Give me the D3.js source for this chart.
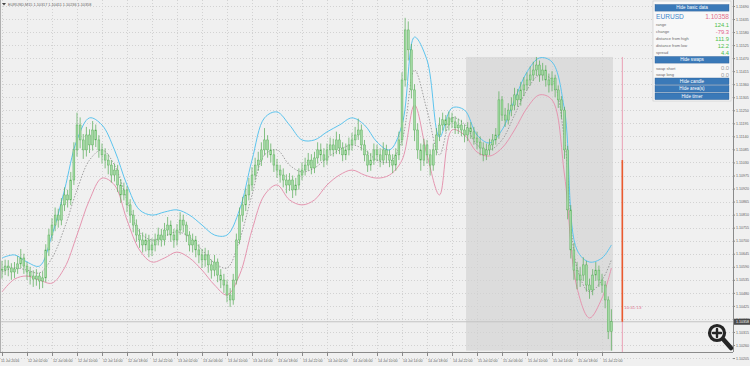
<!DOCTYPE html>
<html>
<head>
<meta charset="utf-8">
<script src="https://cdn.jsdelivr.net/npm/d3@7/dist/d3.min.js"></script>
<style>
  body { margin: 0; background: #f0f0f0; }
  svg { display: block; font-family: "Liberation Sans", Arial, sans-serif; }
</style>
</head>
<body>
<svg id="chart" width="750" height="366"></svg>
<script>
// EURUSD M30 bars, prices kept in pips above 1.1000
const BASE = 1.1;
const firstOpen = 58.0;

const closes = [
  57.6, 59.3, 58.5, 56.8, 58.1, 60.2, 62.7, 59.3, 56.8, 55.1, 53.8, 55.1, 53.0, 54.3,
  66.1, 72.4, 76.6, 80.8, 78.7, 85.1, 89.3, 87.2, 95.6, 108.3, 118.8, 112.5,
  108.3, 114.6, 110.4, 116.7, 112.5, 108.3, 106.2, 104.0,
  101.9, 97.7, 99.8, 93.5, 89.3, 91.4, 85.1, 80.8, 76.6, 72.4, 70.3, 68.2, 70.3, 66.1,
  68.2, 70.3, 72.4, 70.3, 74.5, 76.6, 72.4, 70.3, 74.5, 78.7, 76.6, 72.4, 68.2, 70.3, 66.1, 64.0,
  61.9, 64.0, 59.8, 57.6, 61.0, 55.5, 53.4, 51.3, 47.1, 45.0,
  53.4, 70.3, 80.8, 85.1, 89.3, 93.5, 97.7, 101.9, 104.0, 108.3, 112.5,
  108.3, 106.2, 101.9, 99.8, 97.7, 95.6, 93.5, 95.6, 91.4, 93.5, 97.7,
  99.8, 101.9, 104.0, 100.7, 104.9, 108.3, 106.2, 104.0, 108.3, 110.4, 108.3, 112.5, 109.1, 106.2, 108.3,
  110.4, 112.5, 114.6, 116.7, 110.4, 106.2, 101.9, 104.0, 108.3, 106.2, 104.0, 108.3, 106.2, 104.0, 101.9, 106.2,
  112.5, 137.8, 158.9, 150.5, 133.6, 116.7,
  108.3, 104.0, 110.4, 106.2, 101.9, 108.3, 114.6, 118.8,
  121.0, 118.8, 121.8, 120.1, 117.6, 118.8, 116.7, 114.6, 117.6, 115.9,
  113.3, 111.6, 109.1, 106.2, 108.3, 110.4, 112.5, 114.6, 129.4,
  123.0, 120.9, 125.1, 127.2, 131.5, 129.4, 133.6, 135.7, 137.8, 139.9, 142.0, 144.1,
  139.9, 142.0, 137.8, 135.7, 138.6, 133.6, 129.4, 125.1,
  108.3, 83.0, 66.1, 57.6,
  53.4, 55.5, 59.8, 51.3, 49.2, 55.5, 57.6, 53.4, 51.3,
  45.0, 31.7, 35.8
];
const highs = [
  61.5, 62.0, 61.8, 60.5, 61.0, 63.5, 66.5, 64.5, 61.0, 59.0, 57.5, 58.0, 56.5, 57.0,
  68.5, 75.0, 79.5, 84.0, 83.5, 88.0, 92.5, 91.5, 99.0, 111.5, 124.0, 122.0,
  115.0, 118.0, 117.0, 120.5, 119.0, 114.5, 111.0, 109.0,
  106.5, 104.0, 102.5, 102.0, 96.0, 94.5, 93.0, 87.5, 83.0, 79.0, 75.0, 73.5, 73.0, 72.5,
  71.0, 73.0, 75.5, 75.0, 77.5, 80.0, 78.5, 75.0, 77.0, 82.0, 81.0, 78.0, 74.0, 73.0, 72.0, 68.5,
  66.5, 67.0, 66.0, 62.0, 64.0, 62.5, 58.0, 56.0, 53.5, 50.0,
  56.0, 73.0, 84.0, 88.5, 92.0, 96.5, 101.0, 105.0, 107.5, 111.5, 117.5,
  114.5, 111.0, 108.5, 104.5, 102.0, 100.5, 98.0, 98.5, 97.5, 96.5, 100.5,
  103.0, 105.0, 107.0, 106.5, 107.5, 111.5, 111.0, 109.0, 111.0, 113.5, 113.0, 116.0, 115.0, 111.5, 111.0,
  113.5, 115.5, 118.0, 121.5, 119.0, 112.5, 108.0, 107.0, 111.0, 110.5, 109.0, 111.5, 110.5, 108.5, 106.5, 109.0,
  116.0, 141.0, 164.0, 162.5, 153.0, 136.0,
  119.5, 111.0, 113.0, 112.5, 108.5, 111.0, 117.5, 122.0,
  124.0, 123.0, 124.5, 124.0, 122.5, 121.5, 121.0, 119.0, 120.0, 120.0,
  118.0, 116.0, 114.0, 111.5, 111.0, 113.0, 115.0, 117.5, 133.0,
  131.0, 126.0, 128.0, 130.5, 134.5, 134.0, 137.0, 139.0, 141.0, 143.5, 145.5, 147.5,
  146.0, 145.0, 144.0, 140.5, 141.5, 140.0, 135.5, 131.0,
  126.5, 110.0, 85.0, 69.0,
  61.0, 59.0, 63.0, 61.5, 54.0, 58.0, 61.0, 59.5, 56.0,
  53.0, 46.5, 41.1
];
const lows = [
  54.0, 55.5, 55.0, 53.5, 54.2, 56.0, 58.5, 56.0, 53.5, 51.5, 50.5, 51.0, 49.5, 50.0,
  52.5, 63.5, 70.0, 74.0, 75.5, 76.5, 82.5, 84.0, 85.0, 93.5, 105.5, 109.0,
  104.5, 105.5, 107.0, 108.0, 109.5, 105.0, 102.5, 100.5,
  98.0, 94.5, 95.0, 90.5, 86.0, 87.0, 82.0, 77.5, 73.5, 69.5, 67.0, 65.0, 65.5, 63.0,
  63.5, 65.5, 68.0, 67.5, 68.0, 72.0, 69.5, 67.0, 68.0, 72.5, 73.5, 69.5, 65.5, 65.0, 63.0, 60.5,
  58.5, 59.0, 56.5, 54.0, 55.0, 52.5, 50.0, 48.0, 44.0, 42.0,
  43.0, 51.5, 68.5, 78.0, 82.5, 87.0, 91.0, 95.5, 99.5, 101.5, 106.0,
  105.0, 103.0, 99.0, 96.5, 94.5, 92.5, 90.0, 91.0, 88.0, 89.0, 91.5,
  95.5, 97.5, 99.5, 98.0, 98.5, 102.5, 103.5, 101.0, 102.0, 106.0, 105.5, 106.5, 106.5, 103.5, 104.0,
  106.0, 108.0, 110.5, 112.5, 108.0, 103.5, 99.0, 99.5, 102.0, 103.5, 101.0, 102.0, 103.0, 101.0, 98.5, 99.5,
  104.0, 110.0, 135.0, 146.0, 130.0, 112.0,
  104.5, 99.5, 101.5, 102.5, 97.5, 99.5, 106.0, 112.0,
  116.5, 116.0, 116.5, 117.5, 115.0, 115.0, 114.0, 111.5, 112.0, 113.0,
  110.5, 108.5, 106.0, 103.5, 104.0, 106.0, 108.0, 110.5, 113.0,
  120.5, 118.0, 119.0, 122.5, 125.0, 126.5, 127.0, 131.0, 133.5, 135.5, 137.5, 139.5,
  137.0, 137.5, 135.0, 132.5, 133.0, 130.5, 126.0, 121.5,
  104.5, 79.0, 62.5, 53.5,
  49.5, 50.5, 53.0, 48.5, 45.5, 47.0, 53.0, 50.5, 48.0,
  41.5, 28.5, 23.6
];

// band lines, sampled every 4 bars (plus the last bar)
const bandIdx = [0, 4, 8, 12, 16, 20, 24, 28, 32, 36, 40, 44, 48, 52, 56, 60, 64, 68, 72, 76, 80, 84, 88, 92, 96,
  100, 104, 108, 112, 116, 120, 124, 128, 132, 136, 140, 144, 148, 152, 156, 160, 164, 168, 172, 176, 180, 184, 188, 192, 195];
const upperBand = [62.7, 64.0, 61.0, 59.3, 72.4, 91.4, 112.5, 121.8, 118.8, 108.3, 93.5, 83.0, 80.8, 82.1, 83.0, 80.8,
  76.6, 72.4, 72.4, 83.0, 104.0, 121.8, 124.3, 118.8, 112.5, 112.5, 115.9, 118.8, 121.8, 118.8, 111.6, 108.3,
  118.8, 155.9, 146.2, 113.7, 126.0, 125.1, 114.6, 111.2, 116.7, 129.4, 141.2, 147.1, 145.4, 125.1, 66.1, 61.0, 62.7, 68.2];
const midBand = [56.8, 58.5, 57.6, 56.4, 62.7, 75.4, 91.4, 104.0, 108.3, 101.9, 87.2, 73.7, 70.3, 72.0, 73.7, 71.6,
  66.1, 60.6, 58.5, 70.3, 89.3, 106.2, 108.3, 101.9, 99.0, 100.7, 104.9, 108.3, 110.4, 108.3, 104.0, 103.2,
  112.5, 142.0, 125.1, 106.2, 121.8, 119.2, 110.4, 108.3, 112.5, 123.0, 133.6, 139.9, 137.8, 112.5, 58.5, 48.4, 53.4, 61.9];
const lowerBand = [48.4, 53.8, 55.1, 53.4, 52.1, 58.5, 72.4, 87.2, 96.4, 93.5, 78.7, 66.1, 61.0, 62.7, 65.2, 62.7,
  57.6, 51.3, 47.1, 55.5, 74.5, 89.3, 93.5, 87.2, 85.1, 87.2, 93.5, 97.7, 99.8, 97.7, 96.4, 97.7,
  104.0, 127.2, 106.2, 89.3, 116.7, 114.6, 107.4, 105.7, 109.1, 116.7, 126.0, 131.5, 129.4, 97.7, 50.1, 37.4, 45.8, 58.5];

const timeLabels = ['11 Jul 2016', '12 Jul 02:00', '12 Jul 06:00', '12 Jul 10:00', '12 Jul 14:00', '12 Jul 18:00',
  '12 Jul 22:00', '13 Jul 02:00', '13 Jul 06:00', '13 Jul 10:00', '13 Jul 14:00', '13 Jul 18:00', '13 Jul 22:00',
  '14 Jul 02:00', '14 Jul 06:00', '14 Jul 10:00', '14 Jul 14:00', '14 Jul 18:00', '14 Jul 22:00',
  '15 Jul 02:00', '15 Jul 06:00', '15 Jul 10:00', '15 Jul 14:00', '15 Jul 18:00', '15 Jul 22:00'];
const timeIdx = [0, 8, 16, 24, 32, 40, 48, 56, 64, 72, 80, 88, 96, 104, 112, 120, 128, 136, 144, 152, 160, 168, 176, 184, 192];

const priceTicks = [1.11690, 1.11635, 1.11580, 1.11525, 1.11470, 1.11415, 1.11360, 1.11305, 1.11250, 1.11195,
  1.11140, 1.11085, 1.11030, 1.10975, 1.10920, 1.10865, 1.10810, 1.10755, 1.10700, 1.10645, 1.10590,
  1.10535, 1.10480, 1.10425, 1.10370, 1.10315, 1.10260, 1.10205];

const lastPrice = 1.10358;
const areaFrom = 149, areaTo = 195;
const timerIdx = 198.5, timerTop = 1.11040, timerText = '10:41:13';
const title = 'EURUSD,M15  1.10317 1.10411 1.10236 1.10358';

const infoRows = [
  { label: 'range', value: '124.1', color: '#4cbf4c' },
  { label: 'change', value: '-79.3', color: '#e0608a' },
  { label: 'distance from high', value: '111.9', color: '#4cbf4c' },
  { label: 'distance from low', value: '12.2', color: '#4cbf4c' },
  { label: 'spread', value: '4.4', color: '#4cbf4c' }
];
const swapRows = [
  { label: 'swap short', value: '0.0', color: '#9a9a9a' },
  { label: 'swap long', value: '0.0', color: '#9a9a9a' }
];

const svg = d3.select('#chart');
const right = 733, bottom = 352;
const toPrice = p => BASE + p / 10000;

const x = d3.scaleLinear().domain([0, 195]).range([2, 611.4]);
const y = d3.scaleLinear().domain([1.11690, 1.10260]).range([6, 345]);
const bw = 3.125;

svg.append('rect').attr('width', 750).attr('height', 366).attr('fill', '#f0f0f0');

// selected area
const areaHigh = d3.max(highs.slice(areaFrom, areaTo + 1));
const areaLow = d3.min(lows.slice(areaFrom, areaTo + 1));
svg.append('rect')
  .attr('x', x(areaFrom) - bw / 2).attr('y', y(toPrice(areaHigh)))
  .attr('width', x(areaTo) - x(areaFrom) + bw)
  .attr('height', y(toPrice(areaLow)) - y(toPrice(areaHigh)))
  .attr('fill', '#dcdcdc');

// grid
svg.append('g').selectAll('line')
  .data(priceTicks)
  .join('line')
    .attr('x1', 0).attr('x2', right)
    .attr('y1', d => Math.round(y(d)) + 0.5).attr('y2', d => Math.round(y(d)) + 0.5)
    .attr('stroke', '#d2d2d2').attr('stroke-dasharray', '1,2');
svg.append('g').selectAll('line')
  .data(timeIdx)
  .join('line')
    .attr('x1', d => Math.round(x(d)) + 0.5).attr('x2', d => Math.round(x(d)) + 0.5)
    .attr('y1', 0).attr('y2', bottom)
    .attr('stroke', '#d2d2d2').attr('stroke-dasharray', '1,2');

// current price line
svg.append('line')
  .attr('x1', 0).attr('x2', right)
  .attr('y1', y(lastPrice)).attr('y2', y(lastPrice))
  .attr('stroke', '#c4c4c4');

// bands
const bandLine = vals => d3.line()
  .x((d, i) => x(bandIdx[i]))
  .y(d => y(toPrice(d)))
  .curve(d3.curveCatmullRom.alpha(0.5))(vals);

svg.append('path').attr('d', bandLine(midBand)).attr('fill', 'none')
  .attr('stroke', '#8c8c8c').attr('stroke-width', 0.8).attr('stroke-dasharray', '1.5,1.5');
svg.append('path').attr('d', bandLine(upperBand)).attr('fill', 'none')
  .attr('stroke', '#5cc4ee').attr('stroke-width', 1);
svg.append('path').attr('d', bandLine(lowerBand)).attr('fill', 'none')
  .attr('stroke', '#e596b0').attr('stroke-width', 1);

// candles
const bars = closes.map((c, i) => ({
  i, o: i === 0 ? firstOpen : closes[i - 1], c, h: highs[i], l: lows[i]
}));
const gBars = svg.append('g');
gBars.selectAll('line')
  .data(bars)
  .join('line')
    .attr('x1', d => x(d.i)).attr('x2', d => x(d.i))
    .attr('y1', d => y(toPrice(d.h))).attr('y2', d => y(toPrice(d.l)))
    .attr('stroke', '#55aa55').attr('stroke-width', 0.7);
gBars.selectAll('rect')
  .data(bars)
  .join('rect')
    .attr('x', d => x(d.i) - 0.95)
    .attr('y', d => y(toPrice(Math.max(d.o, d.c))))
    .attr('width', 1.9)
    .attr('height', d => Math.max(0.8, Math.abs(y(toPrice(d.o)) - y(toPrice(d.c)))))
    .attr('fill', '#a2daa2').attr('stroke', '#5aad5a').attr('stroke-width', 0.45);

// candle timer
const tx = x(timerIdx);
svg.append('line')
  .attr('x1', tx).attr('x2', tx)
  .attr('y1', y(toPrice(areaHigh))).attr('y2', bottom)
  .attr('stroke', '#e88aa4').attr('stroke-width', 0.8);
svg.append('line')
  .attr('x1', tx).attr('x2', tx)
  .attr('y1', y(timerTop)).attr('y2', y(lastPrice))
  .attr('stroke', '#ea5a2e').attr('stroke-width', 1.6);
svg.append('text')
  .attr('x', tx + 2).attr('y', y(lastPrice) - 13)
  .attr('font-size', 4.4).attr('fill', '#e0708e')
  .text(timerText);

// frame
svg.append('line').attr('x1', right + 0.5).attr('x2', right + 0.5).attr('y1', 0).attr('y2', bottom)
  .attr('stroke', '#8a8a8a');
svg.append('line').attr('x1', 0).attr('x2', right).attr('y1', bottom + 0.5).attr('y2', bottom + 0.5)
  .attr('stroke', '#8a8a8a');
svg.append('line').attr('x1', 0.5).attr('x2', 0.5).attr('y1', 0).attr('y2', bottom)
  .attr('stroke', '#b0b0b0');

// price axis
const yAxis = svg.append('g').attr('transform', `translate(${right},0)`)
  .call(d3.axisRight(y).tickValues(priceTicks).tickFormat(d3.format('.5f')).tickSize(2).tickPadding(1));
yAxis.select('.domain').remove();
yAxis.selectAll('line').attr('stroke', '#8a8a8a');
yAxis.selectAll('text').attr('font-size', 3.6).attr('fill', '#606060')
  .attr('font-family', '"Liberation Sans", Arial, sans-serif');

svg.append('rect')
  .attr('x', right + 1).attr('y', y(lastPrice) - 3).attr('width', 16).attr('height', 6)
  .attr('fill', '#4a4a4a');
svg.append('text')
  .attr('x', right + 3).attr('y', y(lastPrice) + 1.3)
  .attr('font-size', 3.6).attr('fill', '#ffffff')
  .text(d3.format('.5f')(lastPrice));

// time axis
const gTime = svg.append('g');
gTime.selectAll('line')
  .data(timeIdx)
  .join('line')
    .attr('x1', d => Math.round(x(d)) + 0.5).attr('x2', d => Math.round(x(d)) + 0.5)
    .attr('y1', bottom).attr('y2', bottom + 4)
    .attr('stroke', '#8a8a8a');
gTime.selectAll('text')
  .data(timeIdx)
  .join('text')
    .attr('x', (d, i) => i === 0 ? 1 : x(d) + 1)
    .attr('y', bottom + 10)
    .attr('font-size', 3.6).attr('fill', '#606060')
    .text((d, i) => timeLabels[i]);

// title
svg.append('path').attr('d', 'M2,3 L6,3 L4,5.5 Z').attr('fill', '#444');
svg.append('text').attr('x', 8).attr('y', 6).attr('font-size', 3.8).attr('fill', '#666').text(title);

// info panel
const panel = svg.append('g');
const px0 = 653, px1 = 731;
panel.append('rect').attr('x', px0).attr('y', 1).attr('width', px1 - px0).attr('height', 100)
  .attr('fill', '#f8f8f8').attr('stroke', '#c8c8c8').attr('stroke-width', 0.6);

function button(label, top) {
  panel.append('rect').attr('x', px0 + 2).attr('y', top).attr('width', px1 - px0 - 4).attr('height', 6.6)
    .attr('fill', '#3a79b8').attr('stroke', '#2c5f94').attr('stroke-width', 0.4);
  panel.append('text').attr('x', (px0 + px1) / 2).attr('y', top + 4.9)
    .attr('text-anchor', 'middle').attr('font-size', 4.6).attr('fill', '#ffffff').text(label);
}
button('Hide basic data', 4.5);
panel.append('text').attr('x', px0 + 3).attr('y', 18.5).attr('font-size', 6.6).attr('fill', '#3d86cc').text('EURUSD');
panel.append('text').attr('x', px1 - 2).attr('y', 18.5).attr('text-anchor', 'end')
  .attr('font-size', 6.6).attr('fill', '#e0708e').text(d3.format('.5f')(lastPrice));

function rows(data, top, step) {
  data.forEach((r, i) => {
    panel.append('text').attr('x', px0 + 3).attr('y', top + i * step)
      .attr('font-size', 4).attr('fill', '#6a6a6a').text(r.label);
    panel.append('text').attr('x', px1 - 2).attr('y', top + i * step + 0.5).attr('text-anchor', 'end')
      .attr('font-size', 5.8).attr('fill', r.color).text(r.value);
  });
}
rows(infoRows, 26, 7);
button('Hide swaps', 56.5);
rows(swapRows, 69.5, 6.8);
button('Hide candle', 78);
button('Hide area(s)', 85.5);
button('Hide timer', 93);

// zoom glyph
const mag = svg.append('g').attr('stroke', '#262626').attr('fill', 'none').attr('stroke-linecap', 'round');
mag.append('circle').attr('cx', 717).attr('cy', 333).attr('r', 7.5).attr('stroke-width', 3.2);
mag.append('line').attr('x1', 723).attr('y1', 339).attr('x2', 731).attr('y2', 348).attr('stroke-width', 4.5);
mag.append('line').attr('x1', 713).attr('y1', 333).attr('x2', 721).attr('y2', 333).attr('stroke-width', 2.4);
mag.append('line').attr('x1', 717).attr('y1', 329).attr('x2', 717).attr('y2', 337).attr('stroke-width', 2.4);
</script>
</body>
</html>
